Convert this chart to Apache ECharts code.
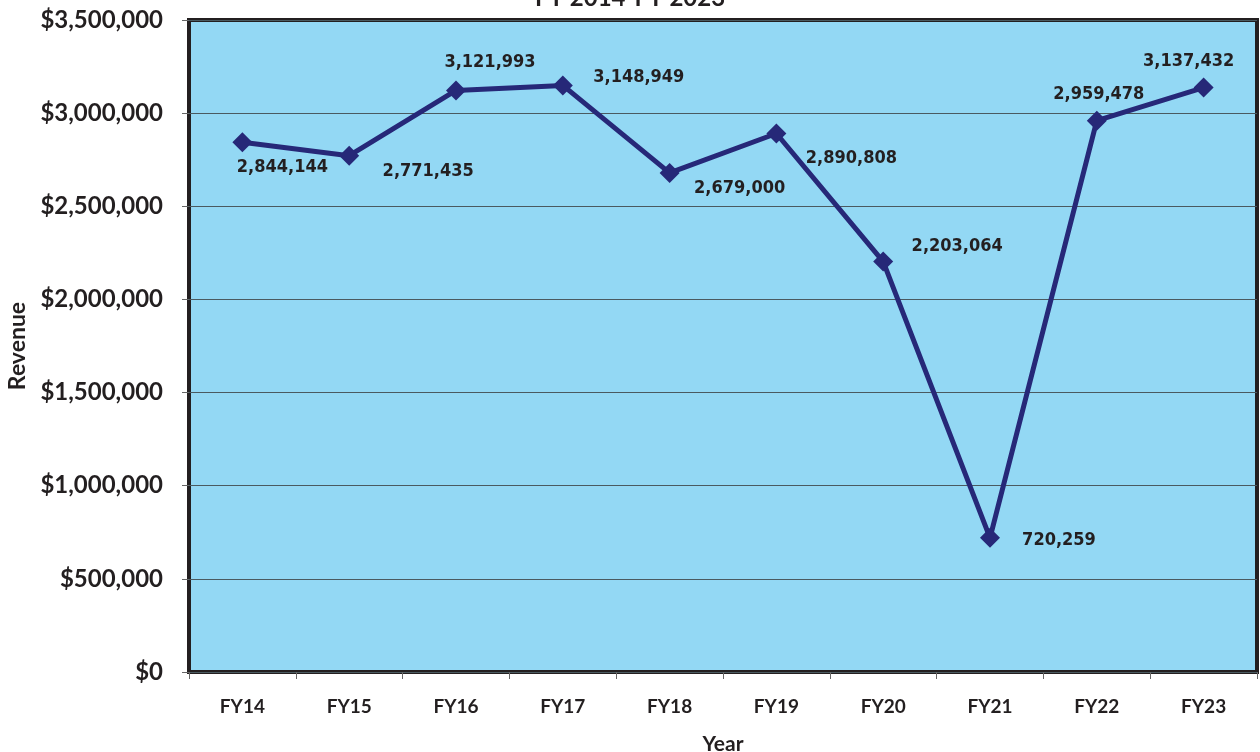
<!DOCTYPE html>
<html><head><meta charset="utf-8">
<script src="https://cdn.jsdelivr.net/npm/echarts@6/dist/echarts.min.js"></script>
<style>html,body{margin:0;padding:0;background:#fff}#c{width:1260px;height:752px}</style>
</head><body><div id="c"></div>
<script>
const categories = ['FY14','FY15','FY16','FY17','FY18','FY19','FY20','FY21','FY22','FY23'];
const revenue = [2844144, 2771435, 3121993, 3148949, 2679000, 2890808, 2203064, 720259, 2959478, 3137432];
const titleText = 'FY 2014-FY 2023';
const labelOffsets = [[40,25],[79,16],[34,-28],[76,-8],[70,15],[75,25],[74,-15],[69,3],[2,-26],[-15,-26]];

const chart = echarts.init(document.getElementById('c'));
const fmt = v => v.toLocaleString('en-US');
chart.setOption({
  animation: false,
  title: { text: titleText, left: 'center', top: -19,
    textStyle: { fontFamily: 'Lato', fontWeight: 'bold', fontSize: 24, color: '#231f20' } },
  grid: { left: 189, right: 3, top: 20, bottom: 80, show: true, outerBoundsMode: 'none', containLabel: false,
    backgroundColor: '#93d8f4', borderColor: '#231f20', borderWidth: 4 },
  xAxis: { type: 'category', data: categories, boundaryGap: true,
    name: 'Year', nameLocation: 'middle', nameGap: 62,
    nameTextStyle: { fontFamily: 'Lato', fontWeight: 'bold', fontSize: 21, color: '#231f20' },
    axisLine: { show: false },
    axisTick: { show: true, length: 7, lineStyle: { color: '#666', width: 1 } },
    axisLabel: { margin: 25, fontFamily: 'Lato', fontWeight: 'bold', fontSize: 19, color: '#231f20' } },
  yAxis: { type: 'value', min: 0, max: 3500000, interval: 500000,
    name: 'Revenue', nameLocation: 'middle', nameGap: 157, nameRotate: 90,
    nameTextStyle: { fontFamily: 'Lato', fontWeight: 'bold', fontSize: 23, color: '#231f20' },
    axisLine: { show: false },
    axisTick: { show: true, length: 7, lineStyle: { color: '#666', width: 1 } },
    axisLabel: { margin: 26, fontFamily: 'Lato', fontWeight: 'bold', fontSize: 24, color: '#231f20',
      formatter: v => '$' + fmt(v) },
    splitLine: { show: true, lineStyle: { color: '#4a5a60', width: 1 } } },
  series: [{
    type: 'line', data: revenue.map((v, i) => ({ value: v,
      label: { offset: labelOffsets[i] } })),
    lineStyle: { color: '#262878', width: 5 },
    itemStyle: { color: '#262878' },
    symbol: 'diamond', symbolSize: 20,
    label: { show: true, position: 'inside', align: 'center', verticalAlign: 'middle',
      formatter: p => fmt(p.value),
      fontFamily: 'DejaVu Sans Condensed', fontWeight: 'bold', fontSize: 18, color: '#231f20' }
  }]
});
</script></body></html>
